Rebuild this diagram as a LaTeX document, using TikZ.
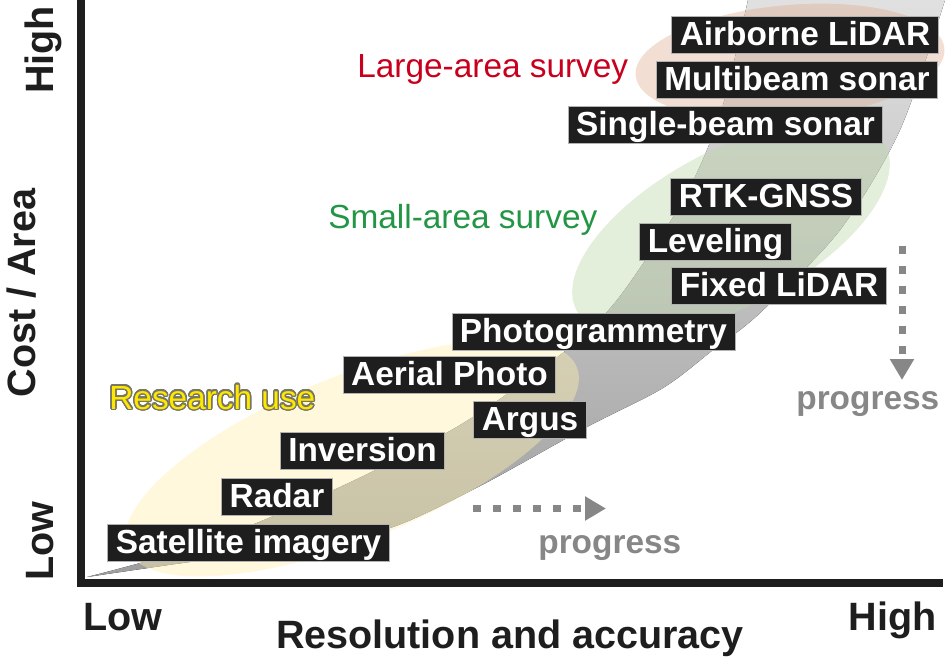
\documentclass[tikz,border=0pt]{standalone}
\usepackage{fontspec}
\setmainfont{Liberation Sans}
\usepackage{contour}
\contourlength{0.8pt}
\contournumber{24}
\usetikzlibrary{arrows.meta}
\definecolor{boxblack}{RGB}{30,30,30}
\definecolor{surveyred}{RGB}{200,0,30}
\definecolor{surveygreen}{RGB}{35,150,70}
\definecolor{useyellow}{RGB}{255,232,0}
\definecolor{useedge}{RGB}{120,118,100}
\definecolor{progray}{RGB}{135,135,135}
\definecolor{fillyellow}{RGB}{255,240,175}
\definecolor{fillgreen}{RGB}{190,215,170}
\definecolor{fillpeach}{RGB}{225,170,140}

\begin{document}
\begin{tikzpicture}[x=0.02cm, y=-0.02cm,
  tech/.style={fill=boxblack, draw=gray!60, line width=0.4pt, text=white,
               inner xsep=0.16cm, inner ysep=0pt, text height=0.58cm, text depth=0.16cm,
               font=\fontsize{19}{22}\selectfont\bfseries},
  axislbl/.style={font=\fontsize{22.5}{26}\selectfont\bfseries, text=boxblack, inner sep=0pt},
  grouplbl/.style={font=\fontsize{19}{22}\selectfont, inner sep=0pt, anchor=base west},
  proglbl/.style={font=\fontsize{19}{22}\selectfont\bfseries, text=progray, inner sep=0pt, anchor=base west},
  progarrow/.style={-{Triangle[length=0.42cm, width=0.46cm]}, draw=progray, line width=0.14cm,
                    dash pattern=on 0.16cm off 0.24cm},
  area/.style={fill opacity=0.42},
]
\useasboundingbox (0,0) rectangle (951,664);
\fill[white] (0,0) rectangle (951,664);

% trend band
\fill[top color=black!12, bottom color=black!38]
  plot[smooth] coordinates {(87,577) (200,545) (340,487) (460,425) (560,355) (617,300) (683,200) (720,115) (748,0)}
  -- plot[smooth] coordinates {(945,0) (900,130) (840,230) (760,313) (713,350) (663,388) (587,427) (480,486) (393,527) (300,548) (190,562) (87,577)}
  -- cycle;

% survey areas
\fill[fillgreen, area] (731,228) circle [x radius=3.5cm, y radius=1.56cm, rotate=28];
\fill[fillyellow, area] (352,458) circle [x radius=4.85cm, y radius=1.64cm, rotate=22];
\fill[fillpeach, area, fill opacity=0.38] (790,62) circle [x radius=3.1cm, y radius=1.14cm, rotate=5];

% axes
\coordinate (ytop) at (81,0);
\coordinate (origin) at (81,582.5);
\coordinate (xend) at (943,582.5);
\draw[line width=0.16cm, boxblack, line join=miter] (ytop) -- (origin) -- (xend);

\node[axislbl, rotate=90, anchor=base] (yhigh) at (53,50) {High};
\node[axislbl, rotate=90, anchor=base] (ylabel) at (35,293) {Cost / Area};
\node[axislbl, rotate=90, anchor=base] (ylow) at (53,541) {Low};
\node[axislbl, anchor=base west] (xlow) at (83,630) {Low};
\node[axislbl, anchor=base] (xlabel) at (510,648) {Resolution and accuracy};
\node[axislbl, anchor=base east] (xhigh) at (937,630) {High};

\node[grouplbl, text=surveyred] (large) at (357,77) {Large-area survey};
\node[grouplbl, text=surveygreen] (small) at (328,228) {Small-area survey};
\node[grouplbl, text=useyellow] (research) at (109,409) {\contour{useedge}{Research use}};

\node[tech] (airborne) at (805,34.5) {Airborne LiDAR};
\node[tech] (multibeam) at (797,79.5) {Multibeam sonar};
\node[tech] (singlebeam) at (725.5,124.5) {Single-beam sonar};
\node[tech] (rtk) at (766,197) {RTK-GNSS};
\node[tech] (leveling) at (715.5,241.5) {Leveling};
\node[tech] (fixed) at (779,285.5) {Fixed LiDAR};
\node[tech] (photogram) at (593.5,331.5) {Photogrammetry};
\node[tech] (aerial) at (449.5,374.5) {Aerial Photo};
\node[tech] (argus) at (530,419.5) {Argus};
\node[tech] (inversion) at (362.5,450.5) {Inversion};
\node[tech] (radar) at (277,496.5) {Radar};
\node[tech] (satellite) at (248.5,542.5) {Satellite imagery};

% progress arrows
\coordinate (hstart) at (473,508.5);
\coordinate (hend) at (606,508.5);
\draw[progarrow] (hstart) -- (hend);
\coordinate (vstart) at (902,246);
\coordinate (vend) at (902,380);
\draw[progarrow] (vstart) -- (vend);
\node[proglbl] (proghoriz) at (538,553) {progress};
\node[proglbl] (progvert) at (796,409) {progress};
\end{tikzpicture}
\end{document}
